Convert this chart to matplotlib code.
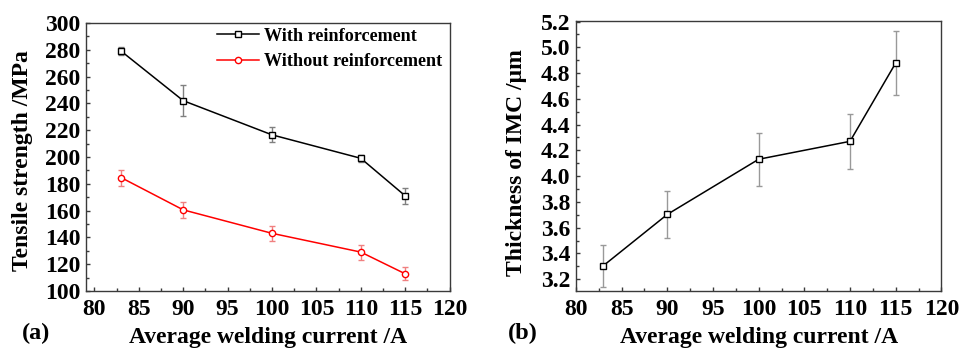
import matplotlib
matplotlib.use("Agg")
import matplotlib.pyplot as plt
from matplotlib.ticker import MultipleLocator

# Data
current = [83, 90, 100, 110, 115]

strength_with = [279, 242, 216.5, 199, 171]
strength_with_err = [2.8, 11.8, 5.5, 2.7, 6.1]
strength_without = [184.6, 160.5, 143, 129, 112.8]
strength_without_err = [6, 6, 5.7, 5.6, 4.7]

imc_thickness = [3.305, 3.703, 4.131, 4.27, 4.878]
imc_err = [0.164, 0.183, 0.205, 0.213, 0.245]

plt.rcParams['font.family'] = ['Liberation Serif', 'DejaVu Serif']
plt.rcParams['font.weight'] = 'bold'

fig = plt.figure(figsize=(9.59, 3.48), dpi=100)
ax1 = fig.add_axes([0.0897, 0.164, 0.380, 0.770])
ax2 = fig.add_axes([0.6006, 0.164, 0.381, 0.776])


def style_axis(ax):
    for s in ax.spines.values():
        s.set_color('#3a3a3a')
        s.set_linewidth(1.0)
    ax.tick_params(which='both', direction='in', top=False, right=False,
                   color='#3a3a3a', labelsize=17)
    ax.tick_params(axis='x', which='both', pad=6)
    ax.tick_params(axis='y', which='both', pad=4)
    ax.tick_params(which='major', length=3.2, width=1)
    ax.tick_params(which='minor', length=2, width=1)
    ax.xaxis.set_major_locator(MultipleLocator(5))
    ax.xaxis.set_minor_locator(MultipleLocator(2.5))
    for lab in ax.get_xticklabels() + ax.get_yticklabels():
        lab.set_fontweight('bold')


# (a) Tensile strength
ax1.errorbar(current, strength_with, yerr=strength_with_err, fmt='none',
             ecolor='#808080', elinewidth=1, capsize=2.3)
ax1.errorbar(current, strength_without, yerr=strength_without_err, fmt='none',
             ecolor='#f08080', elinewidth=1, capsize=2.3)
ax1.plot(current, strength_with, color='black', lw=1.1,
         marker='s', ms=4, mfc='white', mec='black', mew=1,
         label='With reinforcement')
ax1.plot(current, strength_without, color='red', lw=1.1,
         marker='o', ms=4.5, mfc='white', mec='red', mew=1,
         label='Without reinforcement')
ax1.set_xlim(79.05, 120.1)
ax1.set_ylim(100, 300)
ax1.yaxis.set_major_locator(MultipleLocator(20))
ax1.yaxis.set_minor_locator(MultipleLocator(10))
style_axis(ax1)
ax1.set_ylabel('Tensile strength /MPa', fontsize=17, fontweight='bold')
ax1.yaxis.set_label_coords(-0.146, 0.485)
ax1.set_xlabel('Average welding current /A', fontsize=17, fontweight='bold')
ax1.xaxis.set_label_coords(0.5, -0.135)
leg = ax1.legend(loc='upper right', bbox_to_anchor=(0.978, 0.982), frameon=False,
                 fontsize=13.1, handlelength=2.3, borderpad=0, borderaxespad=0,
                 labelspacing=0.45, handletextpad=0.27)
for t in leg.get_texts():
    t.set_fontweight('bold')

# (b) IMC thickness
ax2.errorbar(current, imc_thickness, yerr=imc_err, fmt='none',
             ecolor='#999999', elinewidth=1, capsize=2.3)
ax2.plot(current, imc_thickness, color='black', lw=1.1,
         marker='s', ms=4, mfc='white', mec='black', mew=1)
ax2.set_xlim(80, 120)
ax2.set_ylim(3.109, 5.205)
ax2.yaxis.set_major_locator(MultipleLocator(0.2))
ax2.yaxis.set_minor_locator(MultipleLocator(0.1))
ax2.yaxis.set_major_formatter(plt.FormatStrFormatter('%.1f'))
style_axis(ax2)
ax2.set_ylabel('Thickness of IMC /μm', fontsize=17, fontweight='bold')
ax2.yaxis.set_label_coords(-0.134, 0.474)
ax2.set_xlabel('Average welding current /A', fontsize=17, fontweight='bold')
ax2.xaxis.set_label_coords(0.5, -0.135)

fig.text(0.023, 0.025, '(a)', fontsize=17.5, fontweight='bold')
fig.text(0.530, 0.025, '(b)', fontsize=17.5, fontweight='bold')

fig.savefig('out.png', dpi=100)
